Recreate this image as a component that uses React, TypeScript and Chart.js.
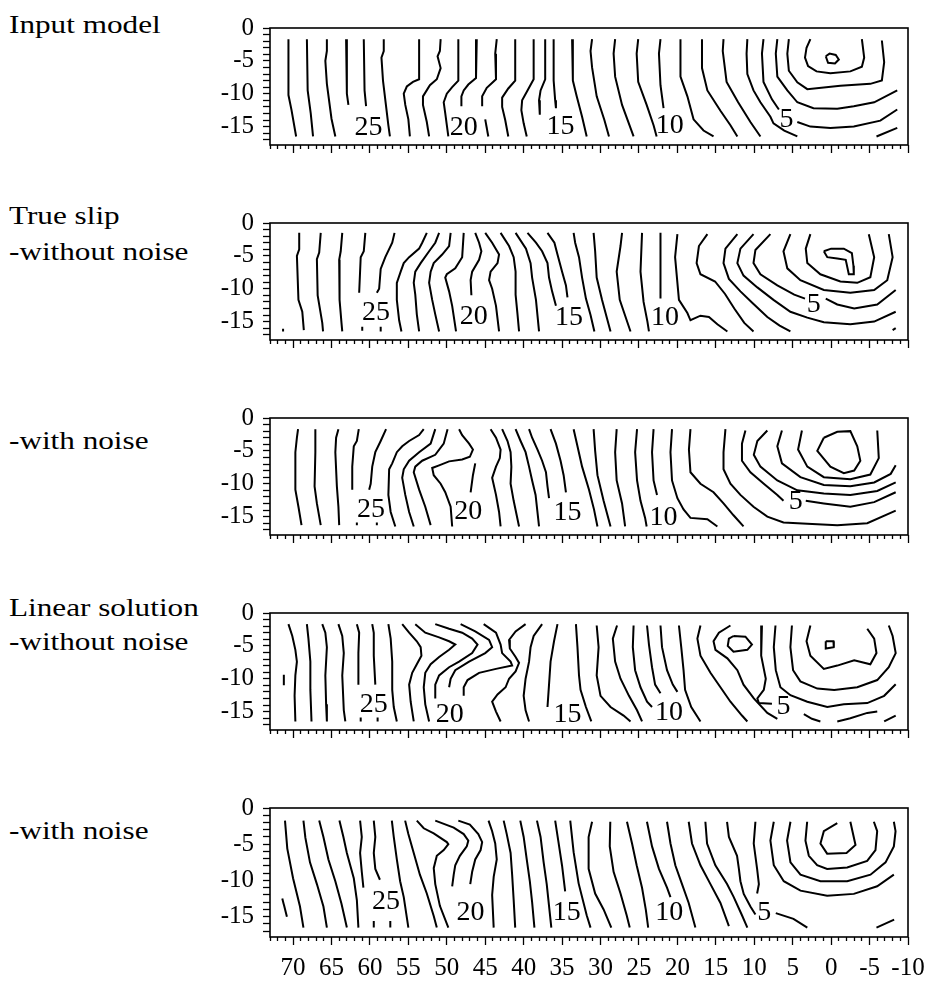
import React, { useEffect, useRef } from "react";
import { Chart, registerables } from "chart.js";

Chart.register(...registerables);

const FONT = "'Liberation Serif', 'Times New Roman', Times, serif";
Chart.defaults.font.family = FONT;
Chart.defaults.color = "#000";

// ---- axis ranges / ticks (data units) ----
const X_MIN = -10;
const X_MAX = 73;
const Y_MIN = -17.8;
const Y_MAX = 0;
const xTickValues: number[] = [];
for (let v = X_MIN; v <= X_MAX; v++) xTickValues.push(v);
const yTickValues: number[] = [];
for (let v = 0; v >= -17; v--) yTickValues.push(v);

// ---- contour polylines: [x1, y1, x2, y2, ...] (rupture-time isochrones) ----
const inputModel: number[][] = [
  [70.6, -1.7, 70.6, -10.2, 70.2, -12.5, 69.6, -16.5],
  [68.2, -1.7, 68.1, -9.5, 67.7, -13, 67.4, -16.5],
  [65.6, -1.7, 65.6, -3.5, 65.8, -5, 65.6, -8.5, 65.0, -13.8, 64.5, -16.5],
  [63.1, -1.7, 63.0, -10, 62.8, -11.7],
  [60.8, -1.7, 60.7, -9.5, 60.5, -11.9],
  [58.2, -1.7, 58.2, -3.5, 58.5, -4.5, 58.3, -8, 57.6, -14.8, 57.4, -16.5],
  [53.6, -1.7, 53.6, -7.8, 54.4, -8.2, 55.2, -8.9, 55.6, -10, 55.4, -11.7, 55.0, -13.9, 54.8, -16.5],
  [50.8, -1.7, 50.9, -3.5, 51.2, -4.3, 50.8, -6.1, 51.3, -7.8, 52.2, -8.7, 53.1, -10.4, 53.1, -11.7, 52.6, -14.3, 52.3, -16.5],
  [48.5, -1.7, 48.5, -8, 49.3, -9, 50.0, -10, 50.4, -11.3, 50.2, -13, 49.8, -16.5],
  [46.1, -1.7, 46.2, -7.6, 47.2, -8.6, 47.8, -9.5, 48.1, -10.4, 48.1, -11.9],
  [43.5, -1.7, 43.7, -3.9, 43.6, -7.8, 44.8, -9.1, 45.4, -10.4, 45.4, -11.9],
  [45.0, -13.9, 44.6, -16.5],
  [41.1, -1.7, 41.1, -8, 42.0, -9.2, 42.8, -10.6, 42.8, -12, 42.4, -14, 42.0, -16.5],
  [38.7, -1.7, 38.7, -7.8, 39.5, -9.5, 40.2, -11, 40.3, -12.5, 40.0, -14.5, 39.6, -16.5],
  [37.2, -1.7, 37.2, -7.8, 37.8, -9.5, 38.0, -11, 37.9, -13.2],
  [36.1, -1.7, 36.1, -8, 35.9, -11, 35.8, -12.2],
  [33.7, -1.7, 33.6, -8, 33.1, -10.4, 32.4, -13.5, 31.8, -16.5],
  [31.1, -1.7, 31.3, -3.5, 31.1, -6, 30.5, -10.4, 29.5, -14, 28.9, -16.5],
  [28.1, -1.7, 28.3, -3.9, 28.1, -7.4, 27.2, -11.7, 25.7, -16.5],
  [25.1, -1.7, 25.3, -3.9, 25.1, -8.2, 24.0, -11.7, 23.1, -14.8, 22.7, -16.5],
  [22.2, -1.7, 22.4, -3.9, 22.2, -8.7, 21.8, -12.2],
  [19.6, -1.7, 19.6, -7.4, 18.7, -10.4, 17.9, -13.9, 16.6, -15.6, 15.3, -16.5],
  [16.8, -1.7, 16.8, -6.1, 16.1, -9.5, 14.4, -12.6, 13.1, -14.8, 12.2, -16.5],
  [14.0, -1.7, 14.1, -3.5, 13.6, -8.2, 12.1, -11.3, 10.5, -14.3, 9.2, -16.5],
  [10.9, -1.7, 11.0, -3.9, 10.9, -7, 10.1, -9.5, 9.2, -11.3, 7.9, -13.5, 7.5, -14.5, 6.1, -15.6, 4.4, -16.5],
  [-5.9, -16.5, -8.6, -15.2],
  [8.8, -1.7, 9.0, -3.9, 8.8, -8.2, 7.7, -10.85, 6.8, -12.4],
  [4.4, -14.3, 2.7, -15.0, 0.1, -15.2, -2.95, -15.0, -6.4, -14.1, -8.6, -12.4],
  [7.0, -1.7, 7.2, -3.9, 7.0, -7.4, 5.7, -9.5, 4.4, -11.3, 2.3, -12.2, -0.8, -12.3, -2.95, -11.9, -5.6, -11.3, -8.6, -9.5],
  [5.5, -1.7, 5.7, -3.9, 5.5, -6.5, 4.4, -8.25, 3.1, -9.3, -1.2, -8.8, -5.1, -8.5, -6.6, -8.0, -6.9, -5.2, -6.6, -1.9],
  [2.7, -1.7, 3.2, -3, 3.4, -4.5, 3.0, -5.8, 1.9, -6.6, 0.1, -6.9, -2.5, -6.6, -4.0, -5.9, -4.3, -4.5, -4.0, -1.7],
  [0.7, -4.3, 0.2, -3.9, -0.6, -4.1, -1.0, -4.8, -0.5, -5.4, 0.4, -5.3, 0.7, -4.3],
];

const trueSlipNoNoise: number[][] = [
  [71.3, -16.1, 71.3, -16.5],
  [69.2, -1.5, 69.2, -4, 69.5, -5, 69.3, -11.7, 68.8, -13.5, 68.6, -16.3],
  [66.4, -1.5, 66.6, -4.5, 66.9, -5.5, 66.8, -11, 66.2, -15.2, 66.1, -16.5],
  [63.6, -1.5, 63.8, -4.3, 64.0, -5.6, 63.95, -11.7, 63.7, -15.2, 63.6, -16.5],
  [60.6, -1.5, 60.8, -4.3, 61.2, -5.2, 61.4, -10.6],
  [61.0, -15.8, 61.0, -16.4],
  [58.6, -15.8, 58.6, -16.5],
  [56.8, -1.5, 57.1, -3, 58.0, -5.2, 58.6, -7, 58.8, -10, 59.1, -10.6],
  [52.6, -1.5, 53.2, -3, 53.6, -3.9, 54.9, -5.2, 55.6, -6.1, 56.0, -7.4, 56.5, -9.1, 56.5, -11.7, 56.2, -14.8, 55.9, -16.5],
  [51.0, -1.5, 51.5, -3, 52.3, -4.3, 53.4, -6.1, 54.1, -7.4, 54.3, -9.1, 54.1, -10.9, 53.9, -13.9, 53.6, -16.5],
  [49.5, -1.5, 49.7, -3.5, 50.6, -4.8, 51.7, -6.1, 52.1, -7.4, 52.3, -9.1, 51.9, -11.7, 51.5, -13.9, 51.0, -16.5],
  [47.8, -1.5, 48.0, -5.2, 48.9, -6.9, 50.0, -7.8, 50.2, -8.3, 49.7, -10.4, 49.3, -12.6, 48.8, -16.5],
  [46.3, -1.5, 45.8, -3, 45.5, -4.3, 45.8, -5.6, 46.7, -7.4, 46.9, -8.7, 46.8, -11],
  [45.0, -1.5, 44.1, -3, 43.2, -4.8, 43.4, -6.1, 44.3, -7.4, 44.5, -8.7, 44.1, -10, 43.6, -12.6, 43.2, -16.5],
  [43.0, -1.5, 41.9, -3.5, 41.3, -5.2, 41.05, -7.4, 41.05, -10.9, 40.8, -13.9, 40.6, -16.5],
  [41.05, -1.5, 39.7, -3.9, 39.1, -6.1, 38.9, -8.3, 38.4, -11.7, 38.0, -16.5],
  [39.5, -1.5, 38.4, -3, 37.6, -4.3, 36.9, -6.1, 36.7, -8.3, 36.3, -10.4, 35.8, -12.6],
  [36.9, -1.5, 36.0, -3, 35.6, -4.8, 35.0, -7.4, 34.5, -9.5, 34.3, -11.3],
  [33.5, -1.5, 33.3, -3, 32.8, -5.2, 32.4, -8.3, 31.9, -11.5, 31.3, -14, 30.8, -16.5],
  [30.9, -1.5, 30.7, -4.3, 30.5, -8.3, 29.8, -11.7, 28.7, -16.5],
  [27.2, -1.5, 27.4, -3.5, 27.9, -7.4, 27.5, -11.7, 26.1, -16.5],
  [24.6, -1.5, 24.8, -7.4, 24.4, -12, 23.9, -15, 23.7, -16.5],
  [22.2, -1.5, 22.2, -11.5],
  [20.0, -1.7, 20.3, -5.2, 19.8, -11.7, 18.7, -13.7, 18.3, -14.8, 17.0, -14.1, 15.9, -14.3, 14.8, -15.4, 13.5, -16.5],
  [16.1, -1.7, 17.2, -3.5, 17.5, -6.1, 17.0, -7.8, 15.1, -8.9, 13.8, -10.8, 12.6, -13.0, 11.3, -15.2, 10.1, -16.5],
  [12.2, -1.7, 13.75, -3.9, 14.0, -6.1, 13.3, -8.5, 11.8, -10.4, 10.2, -12.2, 8.3, -14.3, 6.7, -15.6, 5.3, -16.5],
  [10.1, -1.7, 11.8, -3.9, 12.2, -6.1, 11.4, -8.0, 9.6, -9.8, 7.5, -11.7, 5.3, -13.5, 3.1, -14.4, 0.95, -15.1, -2.5, -15.4, -5.6, -15.0, -8.4, -13.5],
  [7.9, -1.7, 9.85, -4.1, 10.1, -6.1, 9.2, -7.8, 7.0, -9.5, 4.8, -10.9, 3.4, -11.5],
  [0.7, -11.5, -0.8, -12.4, -3.0, -13.0, -6.0, -12.4, -8.4, -10.2],
  [5.3, -1.7, 6.2, -4.3, 5.7, -6.9, 4.0, -8.7, 0.95, -10.2, -2.5, -10.6, -5.6, -10.2, -7.3, -8.7, -8.0, -5.2, -7.5, -1.7],
  [2.7, -1.7, 3.3, -3.9, 3.1, -6.1, 1.4, -7.8, -1.2, -8.9, -3.4, -9.1, -5.1, -8.25, -5.6, -5.2, -4.9, -1.7],
  [0.95, -4.3, 0.0, -3.9, -1.65, -3.9, -2.7, -4.6, -2.9, -6.5, -2.95, -7.8, -2.3, -7.8, -1.9, -5.6, -0.8, -5.4, 0.5, -5.2, 0.95, -4.3],
  [-8.0, -16.3, -8.4, -16.0],
];

const trueSlipNoise: number[][] = [
  [69.35, -1.7, 69.5, -3, 69.7, -5.2, 69.7, -10.9, 69.3, -13.5, 68.9, -16.3],
  [67.1, -1.7, 67.1, -5.2, 67.2, -10.4, 66.9, -13.0, 66.4, -16.3],
  [64.1, -1.7, 64.4, -3, 64.5, -5.2, 64.3, -10.4, 64.1, -13.5, 64.0, -16.3],
  [61.45, -1.7, 61.7, -3.5, 62.1, -4.3, 62.3, -7.4, 62.3, -10.9],
  [61.7, -15.9, 61.7, -16.3],
  [59.1, -15.9, 59.1, -16.3],
  [57.9, -1.7, 58.6, -3.5, 59.3, -5.2, 59.7, -7.4, 59.9, -10, 60.1, -10.9],
  [53.0, -1.7, 53.6, -2.6, 54.9, -3.5, 55.8, -4.3, 56.5, -5.2, 57.1, -6.9, 57.5, -7.8, 57.6, -11.7, 57.3, -14.3, 56.7, -16.5],
  [51.5, -1.7, 52.1, -3.9, 53.6, -5.2, 54.9, -6.5, 55.6, -7.8, 55.8, -9.1, 55.4, -11.7, 54.9, -14.3, 54.3, -16.5],
  [49.9, -1.7, 50.4, -3.9, 51.5, -5.6, 53.2, -6.5, 54.1, -7.4, 54.3, -8.25, 53.6, -10.9, 52.8, -13.5, 52.1, -16.3],
  [48.4, -1.7, 48.0, -2.6, 47.1, -3.9, 46.6, -4.8, 47.0, -5.9, 48.0, -6.3, 49.7, -6.6, 51.0, -7.2, 51.9, -7.6, 51.7, -8.7, 50.8, -10, 50.2, -11.3, 49.5, -13.5, 49.3, -16.5],
  [46.3, -6.9, 46.6, -8.7, 46.9, -11.3],
  [44.3, -1.7, 43.6, -3, 43.0, -4.8, 43.1, -6.1, 43.6, -7.4, 44.1, -9.1, 43.6, -11.7, 43.2, -14.3, 43.0, -16.5],
  [42.8, -1.7, 42.1, -3.5, 41.7, -5.2, 41.6, -7.4, 41.7, -10, 41.3, -12.6, 40.6, -16.5],
  [41.05, -1.7, 40.4, -3.5, 39.75, -5.2, 39.3, -7.4, 38.9, -9.5, 38.45, -11.7, 38.0, -16.5],
  [39.3, -1.7, 38.9, -3, 38.2, -4.8, 37.6, -6.5, 37.1, -8.25, 36.9, -10.4, 36.7, -12.2],
  [36.5, -1.7, 35.8, -3.9, 35.2, -6.5, 34.8, -8.7, 34.5, -11.3],
  [33.5, -1.7, 33.0, -4.3, 32.4, -7.4, 31.5, -10.9, 30.85, -13.9, 30.4, -16.5],
  [30.9, -1.7, 30.7, -5, 30.4, -8.7, 29.6, -12.6, 28.7, -16.5],
  [27.9, -1.7, 28.1, -5.2, 27.9, -9.5, 27.2, -13, 26.8, -16.5],
  [25.25, -1.7, 25.5, -5.2, 25.25, -9.5, 24.8, -12.6, 24.2, -15.2, 24.0, -16.5],
  [23.1, -1.7, 23.3, -5.2, 23.1, -9.5, 22.65, -11.7],
  [20.7, -1.7, 20.9, -5.2, 20.7, -9.5, 20.0, -12.2, 19.2, -13.9, 18.3, -15.2, 16.1, -15.4, 14.8, -16.5],
  [18.3, -1.7, 18.5, -4.8, 18.3, -8.25, 17.0, -10, 15.3, -11.3, 14.0, -13.0, 12.7, -14.8, 11.4, -16.5],
  [13.75, -1.7, 14.0, -5.2, 14.0, -7.8, 13.1, -10, 11.8, -11.7, 10.1, -13.5, 8.3, -15.0, 6.2, -15.9, 3.1, -16.1, -0.8, -16.3, -4.7, -16.0, -8.4, -14.1],
  [11.15, -1.9, 11.6, -3.9, 11.6, -6.5, 10.5, -8.25, 8.76, -10, 7.0, -11.7, 6.2, -12.6],
  [3.3, -12.6, 0.95, -13.0, -2.5, -13.5, -5.6, -12.8, -8.4, -11.3],
  [8.3, -1.9, 9.6, -3.5, 10.06, -5.6, 9.2, -7.4, 7.0, -9.5, 4.4, -11.0, 0.95, -11.5, -2.5, -11.7, -6.0, -11.1, -8.4, -9.8],
  [6.4, -1.9, 7.0, -4.3, 6.4, -6.9, 4.0, -9.0, 0.95, -10.2, -2.5, -10.4, -5.6, -9.8, -7.75, -8.5, -8.4, -7.2],
  [3.8, -1.9, 4.3, -4.8, 3.1, -7.4, 0.95, -9.0, -2.5, -9.3, -5.1, -8.6, -6.2, -6.1, -6.0, -1.9],
  [0.95, -3.0, -0.8, -2.1, -2.5, -2.0, -3.4, -4.3, -3.8, -6.5, -3.0, -8.0, -1.65, -8.4, 0.1, -7.4, 1.8, -5.0, 0.95, -3.0],
];

const linearNoNoise: number[][] = [
  [71.2, -9.4, 71.2, -11.0],
  [70.6, -1.7, 70.1, -3.5, 69.7, -5.6, 69.5, -7.4, 69.7, -9.5, 69.8, -12.6, 69.7, -16.5],
  [68.2, -1.7, 68.0, -3.9, 67.75, -7.4, 67.75, -11.7, 67.6, -16.5],
  [66.2, -1.7, 65.8, -3, 65.6, -5.2, 65.8, -9.5, 65.7, -13.9, 65.6, -16.5],
  [64.1, -1.7, 63.6, -3.5, 63.4, -6.1, 63.6, -9.5, 63.4, -14.8, 63.2, -16.5],
  [61.7, -1.7, 61.4, -3, 61.5, -6.1, 61.5, -10.9],
  [59.7, -1.7, 59.5, -3, 59.5, -6.5, 59.3, -10.9],
  [61.2, -15.9, 61.2, -16.5],
  [59.0, -15.9, 59.0, -16.5],
  [57.6, -1.7, 57.3, -3.9, 57.1, -7.4, 57.1, -11.7, 56.9, -14.3, 56.5, -16.5],
  [55.8, -1.7, 54.9, -3, 53.9, -4.3, 53.4, -5.2, 53.3, -6.5, 53.9, -7.8, 54.5, -9.1, 54.9, -10.9, 54.7, -13.5, 54.3, -16.5],
  [54.1, -1.7, 52.8, -3, 51.0, -3.7, 49.7, -4.3, 48.9, -4.8, 49.7, -5.6, 51.0, -6.7, 52.1, -7.8, 52.8, -9.1, 53.0, -11.3, 52.8, -13.9, 52.3, -16.5],
  [51.5, -1.7, 49.7, -2.4, 48.0, -3.0, 46.7, -3.9, 46.0, -4.8, 46.7, -6.1, 48.4, -7.4, 49.7, -8.25, 51.0, -9.5, 51.5, -10.9, 51.5, -13.0],
  [48.2, -1.7, 46.3, -2.8, 44.5, -4.1, 44.1, -5.2, 45.0, -6.1, 47.1, -7.4, 48.9, -8.7, 49.5, -10.0, 49.7, -11.3],
  [45.2, -1.7, 43.6, -3, 43.0, -4.8, 42.8, -6.1, 41.7, -7.4, 41.5, -8.0, 43.6, -8.5, 45.8, -9.1, 47.3, -10.2, 47.8, -11.3, 47.8, -12.6],
  [39.75, -1.7, 41.05, -2.8, 41.9, -4.1, 41.8, -5.4, 41.05, -6.7, 40.6, -7.6, 41.05, -8.9, 41.9, -10.0, 42.35, -11.3, 43.4, -12.4, 44.1, -13.5, 43.6, -15.0, 43.0, -16.5],
  [37.6, -1.7, 38.7, -3.5, 39.1, -5.2, 39.3, -7.4, 39.75, -10.0, 40.0, -12.6, 39.75, -14.8, 39.3, -16.5],
  [35.6, -1.7, 36.05, -4.3, 36.5, -7.4, 36.7, -10.9, 36.9, -14.3],
  [33.2, -1.7, 33.0, -5.2, 32.8, -9.5, 32.6, -11.7, 31.9, -14.3, 31.2, -16.5],
  [30.5, -1.9, 30.25, -5.2, 30.5, -9.5, 30.0, -12.6, 28.7, -14.3, 27.0, -15.6, 26.1, -16.5],
  [27.85, -1.9, 28.4, -3.9, 28.1, -7.4, 27.4, -10.0, 26.3, -12.6, 25.25, -14.8, 24.6, -16.5],
  [25.7, -1.9, 25.8, -5.2, 25.5, -8.7, 24.8, -11.3, 23.95, -13.5, 23.3, -14.3],
  [23.95, -1.9, 23.7, -4.8, 23.3, -8.25, 22.9, -10.9, 22.2, -12.2],
  [22.2, -1.9, 22.0, -5.2, 21.35, -8.7, 20.6, -10.9, 20.0, -12.0],
  [19.8, -1.9, 19.5, -5.2, 19.2, -8.7, 19.0, -11.7, 18.2, -14.3, 17.0, -16.5],
  [17.0, -1.9, 17.4, -3.9, 17.0, -6.5, 15.7, -9.1, 14.4, -11.3, 13.1, -13.5, 11.6, -15.6, 10.9, -16.5],
  [13.1, -1.9, 14.6, -3.0, 15.3, -4.3, 15.05, -5.6, 13.5, -6.9, 12.2, -8.7, 11.4, -10.9, 10.06, -13.0, 8.3, -15.2, 7.0, -16.1],
  [12.7, -3.5, 11.15, -3.6, 10.3, -4.8, 10.9, -5.6, 12.7, -5.9, 13.45, -5.0, 13.3, -3.9, 12.7, -3.5],
  [9.0, -1.9, 9.1, -6.5, 8.5, -10.0, 8.76, -11.7, 9.6, -13.0, 9.4, -13.7, 7.7, -13.8],
  [7.24, -1.9, 7.46, -5.2, 7.2, -8.7, 6.6, -11.3, 5.3, -12.5, 3.1, -13.5, 0.5, -14.3, -1.65, -13.9, -4.7, -13.7, -6.9, -12.6, -8.4, -10.85],
  [5.1, -1.9, 5.3, -5.2, 4.95, -8.7, 4.0, -10.4, 1.8, -11.5, -0.4, -11.7, -3.4, -11.3, -6.0, -10.2, -7.5, -8.25, -8.4, -6.1, -8.0, -3.5, -7.5, -1.9],
  [2.7, -1.9, 3.2, -4.3, 2.7, -6.5, 0.95, -8.5, -0.8, -8.0, -3.0, -7.2, -5.1, -7.8, -5.9, -6.1, -5.6, -3.9, -4.7, -2.4],
  [0.7, -4.3, -0.3, -4.3, -0.35, -5.2, 0.7, -5.4, 0.7, -4.3],
  [3.55, -15.4, 2.5, -16.1, 1.4, -16.5],
  [-0.8, -16.5, -2.5, -16.0, -4.7, -15.2, -6.0, -15.0],
  [-6.9, -16.5, -8.4, -15.6],
];

const linearNoise: number[][] = [
  [71.4, -12.5, 70.8, -15.0],
  [71.05, -1.74, 70.75, -5.6, 70.0, -9.7, 69.1, -13.6, 68.65, -16.5],
  [68.65, -1.74, 68.4, -4.1, 67.8, -7.5, 66.9, -10.5, 66.05, -13.6, 65.6, -16.5],
  [66.6, -1.74, 66.05, -4.0, 65.4, -7.1, 64.5, -10.1, 63.7, -13.2, 63.0, -16.5],
  [63.97, -1.74, 63.45, -4.0, 63.0, -6.2, 62.1, -9.7, 61.7, -12.7, 61.5, -16.5],
  [61.28, -1.74, 61.06, -4.0, 61.28, -6.2, 61.06, -8.8, 60.85, -11.0],
  [59.5, -1.74, 59.3, -4.0, 59.5, -6.2, 59.3, -8.4, 58.7, -9.9],
  [59.5, -15.6, 59.5, -16.5],
  [57.35, -15.6, 57.35, -16.5],
  [57.15, -1.74, 56.9, -4.0, 56.5, -7.1, 56.07, -10.1, 55.6, -12.3, 55.0, -16.5],
  [55.42, -1.74, 55.0, -3.6, 54.3, -6.2, 53.5, -9.2, 52.6, -11.8, 51.7, -14.9, 51.3, -16.5],
  [53.9, -1.74, 53.0, -2.8, 51.7, -3.5, 50.0, -4.7, 49.8, -5.0, 50.4, -5.8, 51.3, -6.6, 51.7, -8.3, 51.5, -10.5, 50.9, -13.5, 49.8, -16.5],
  [51.5, -1.74, 49.1, -2.7, 47.8, -3.6, 47.2, -4.5, 47.4, -5.3, 48.3, -6.6, 48.9, -7.9, 49.1, -9.2, 49.3, -10.8],
  [48.5, -1.74, 47.0, -2.3, 45.9, -3.6, 45.4, -4.7, 45.6, -5.8, 46.3, -7.1, 46.7, -8.8, 46.95, -10.5],
  [44.57, -1.74, 44.1, -3.2, 43.7, -4.9, 43.5, -7.1, 43.9, -9.5, 44.1, -12, 43.9, -16.5],
  [42.6, -1.74, 42.2, -3.6, 41.7, -6.2, 41.5, -9.2, 41.3, -12.7, 41.1, -16.5],
  [40.44, -1.74, 40.0, -4.0, 39.6, -7.1, 39.2, -10.1, 38.9, -13, 38.6, -16.5],
  [38.27, -1.74, 37.8, -4.0, 37.4, -7.5, 37.0, -10.5, 36.7, -13.5, 36.4, -16.5],
  [35.9, -1.74, 35.5, -4.5, 35.0, -8, 34.6, -11.5],
  [33.94, -1.74, 33.5, -6.1, 32.85, -10.4, 31.8, -14.8, 31.3, -16.5],
  [31.1, -1.9, 31.55, -4.0, 31.55, -8.4, 30.7, -11.8, 29.6, -14.0, 28.6, -16.5],
  [28.73, -1.9, 28.8, -5.3, 28.3, -8.8, 27.4, -11.8, 26.6, -14.8, 26.2, -16.5],
  [26.56, -1.9, 25.9, -4.9, 25.3, -7.9, 24.6, -11.0, 24.1, -14.1, 23.8, -16.5],
  [23.96, -1.9, 23.3, -5.3, 22.4, -8.4, 21.35, -11.0, 20.9, -12.3],
  [21.35, -1.9, 20.9, -4.9, 20.27, -7.9, 19.4, -10.5, 18.53, -13.1, 17.66, -16.5],
  [18.53, -1.9, 18.1, -4.9, 17.0, -7.9, 15.7, -10.5, 14.4, -13.1, 13.3, -16.3],
  [16.36, -1.9, 16.14, -4.9, 15.06, -7.9, 13.54, -10.5, 12.67, -12.3, 11.6, -14.8, 10.9, -16.5],
  [13.54, -1.9, 13.3, -4.0, 12.24, -6.6, 12.0, -8.4, 11.8, -10.1, 11.37, -11.85, 10.5, -13.6, 9.85, -14.7],
  [9.85, -1.9, 10.07, -4.9, 9.63, -8.4, 9.4, -10.5, 9.63, -11.8],
  [7.2, -14.5, 4.9, -15.3, 3.1, -16.5],
  [7.46, -1.9, 7.9, -4.5, 7.46, -7.9, 6.16, -10.1, 3.99, -11.4, 0.52, -12.1, -2.95, -11.85, -5.99, -10.8, -8.16, -9.2],
  [5.29, -1.9, 5.73, -4.5, 5.29, -7.5, 3.99, -9.2, 1.39, -10.1, -2.09, -10.1, -5.12, -9.2, -7.08, -7.5, -8.16, -5.3, -8.38, -3.2, -8.16, -1.9],
  [3.12, -1.9, 3.34, -4.5, 2.9, -6.6, 1.82, -7.9, 0.52, -8.4, -2.09, -8.2, -4.69, -7.3, -5.77, -5.8, -5.99, -3.2, -5.56, -1.9],
  [-2.5, -1.9, -3.17, -5.1, -2.0, -6.2, 0.52, -6.3, 1.39, -4.9, 0.95, -3.2, -0.8, -2.1],
  [-5.9, -16.5, -8.2, -15.4],
];

// ---- contour labels: [text, x, y] ----
type Lbl = [string, number, number];
const inputModelLabels: Lbl[] = [["25", 60.2, -15.2], ["20", 47.8, -15.2], ["15", 35.2, -15.0], ["10", 21.0, -14.8], ["5", 5.8, -14.0]];
const trueSlipNoNoiseLabels: Lbl[] = [["25", 59.2, -13.7], ["20", 46.5, -14.3], ["15", 34.1, -14.4], ["10", 21.6, -14.4], ["5", 2.25, -12.4]];
const trueSlipNoiseLabels: Lbl[] = [["25", 59.85, -13.9], ["20", 47.2, -14.3], ["15", 34.3, -14.4], ["10", 21.8, -15.1], ["5", 4.6, -12.7]];
const linearNoNoiseLabels: Lbl[] = [["25", 59.5, -13.9], ["20", 49.6, -15.5], ["15", 34.3, -15.5], ["10", 21.1, -15.2], ["5", 6.2, -14.3]];
const linearNoiseLabels: Lbl[] = [["25", 57.9, -12.9], ["20", 46.9, -14.4], ["15", 34.4, -14.4], ["10", 21.05, -14.4], ["5", 8.7, -14.5]];

const panelTitles: string[][] = [
  ["Input model"],
  ["True slip", "-without noise"],
  ["-with noise"],
  ["Linear solution", "-without noise"],
  ["-with noise"],
];

// ---- layout (pixels) ----
const PANEL_TOPS = [20, 215, 410, 605, 800];
const TITLE_BASELINES = [[34], [225, 261], [450], [617, 651], [840]];
const AREA_H = 137;
const PAD_TOP = 16;
const CANVAS_LEFT = 200;
const CANVAS_W = 732;

const framePlugin = {
  id: "frame",
  afterDraw(chart: any) {
    const { ctx, chartArea: a } = chart;
    ctx.save();
    ctx.strokeStyle = "#000";
    ctx.lineWidth = 1.6;
    ctx.strokeRect(a.left, a.top, a.right - a.left, a.bottom - a.top);
    ctx.restore();
  },
};

const contourLabelPlugin = {
  id: "contourLabels",
  afterDatasetsDraw(chart: any, _args: any, opts: any) {
    const { ctx } = chart;
    const xs = chart.scales.x;
    const ys = chart.scales.y;
    ctx.save();
    ctx.fillStyle = "#000";
    ctx.font = `28px ${FONT}`;
    ctx.textAlign = "center";
    ctx.textBaseline = "middle";
    (opts.labels || []).forEach((l: Lbl) => {
      ctx.fillText(l[0], xs.getPixelForValue(l[1]), ys.getPixelForValue(l[2]));
    });
    ctx.restore();
  },
};

function Panel({ contours, labels, showX, top }: { contours: number[][]; labels: Lbl[]; showX: boolean; top: number }) {
  const ref = useRef<HTMLCanvasElement>(null);
  const xH = showX ? 50 : 12;
  const h = PAD_TOP + AREA_H + xH;
  useEffect(() => {
    const canvas = ref.current!;
    const datasets = contours.map((c) => {
      const pts: { x: number; y: number }[] = [];
      for (let i = 0; i + 1 < c.length; i += 2) pts.push({ x: c[i], y: c[i + 1] });
      return {
        data: pts,
        showLine: true,
        borderColor: "#000",
        backgroundColor: "#000",
        borderWidth: 2,
        pointRadius: 0,
        fill: false,
        tension: 0,
      };
    });
    const chart = new Chart(canvas, {
      type: "scatter",
      data: { datasets },
      options: {
        animation: false,
        responsive: false,
        devicePixelRatio: 1,
        events: [],
        layout: { padding: { top: PAD_TOP, right: 24, left: 0, bottom: 0 } },
        plugins: {
          legend: { display: false },
          tooltip: { enabled: false },
          contourLabels: { labels },
        } as any,
        scales: {
          x: {
            type: "linear",
            min: X_MIN,
            max: X_MAX,
            reverse: true,
            afterBuildTicks: (s: any) => {
              s.ticks = xTickValues.map((v) => ({ value: v }));
            },
            afterFit: (s: any) => {
              s.height = xH;
            },
            border: { display: false },
            grid: {
              display: true,
              drawOnChartArea: false,
              drawTicks: true,
              tickLength: 8,
              tickColor: "#000",
              tickWidth: 1.3,
              tickBorderDash: (ctx: any) => (ctx.tick && ctx.tick.value % 5 !== 0 ? [4, 20] : []),
            },
            ticks: {
              autoSkip: false,
              maxRotation: 0,
              minRotation: 0,
              padding: 8,
              color: "#000",
              font: { family: FONT, size: 25 },
              callback: (v: any) => (showX && Number(v) % 5 === 0 ? String(v) : ""),
            },
          },
          y: {
            type: "linear",
            min: Y_MIN,
            max: Y_MAX,
            afterBuildTicks: (s: any) => {
              s.ticks = yTickValues.map((v) => ({ value: v }));
            },
            afterFit: (s: any) => {
              s.width = 70;
            },
            border: { display: false },
            grid: {
              display: true,
              drawOnChartArea: false,
              drawTicks: true,
              tickLength: 7,
              tickColor: "#000",
              tickWidth: 1.3,
            },
            ticks: {
              autoSkip: false,
              padding: 9,
              color: "#000",
              font: { family: FONT, size: 25 },
              callback: (v: any) => (Number(v) % 5 === 0 ? String(v) : ""),
            },
          },
        },
      } as any,
      plugins: [framePlugin, contourLabelPlugin],
    });
    return () => chart.destroy();
  }, []);
  return (
    <canvas
      ref={ref}
      width={CANVAS_W}
      height={h}
      style={{ position: "absolute", left: CANVAS_LEFT, top: top - PAD_TOP, width: CANVAS_W, height: h }}
    />
  );
}

const panels = [
  { contours: inputModel, labels: inputModelLabels },
  { contours: trueSlipNoNoise, labels: trueSlipNoNoiseLabels },
  { contours: trueSlipNoise, labels: trueSlipNoiseLabels },
  { contours: linearNoNoise, labels: linearNoNoiseLabels },
  { contours: linearNoise, labels: linearNoiseLabels },
];

export default function App() {
  return (
    <div style={{ position: "absolute", left: 0, top: 0, width: 932, height: 987, background: "#fff", overflow: "hidden" }}>
      {panelTitles.map((lines, pi) =>
        lines.map((t, li) => (
          <div
            key={`${pi}-${li}`}
            style={{
              position: "absolute",
              left: 9,
              top: TITLE_BASELINES[pi][li] - 22,
              fontFamily: FONT,
              fontSize: 26,
              lineHeight: "26px",
              whiteSpace: "nowrap",
              color: "#000",
              transform: "scaleX(1.2)",
              transformOrigin: "left top",
            }}
          >
            {t}
          </div>
        ))
      )}
      {panels.map((p, i) => (
        <Panel key={i} contours={p.contours} labels={p.labels} showX={i === panels.length - 1} top={PANEL_TOPS[i]} />
      ))}
    </div>
  );
}
